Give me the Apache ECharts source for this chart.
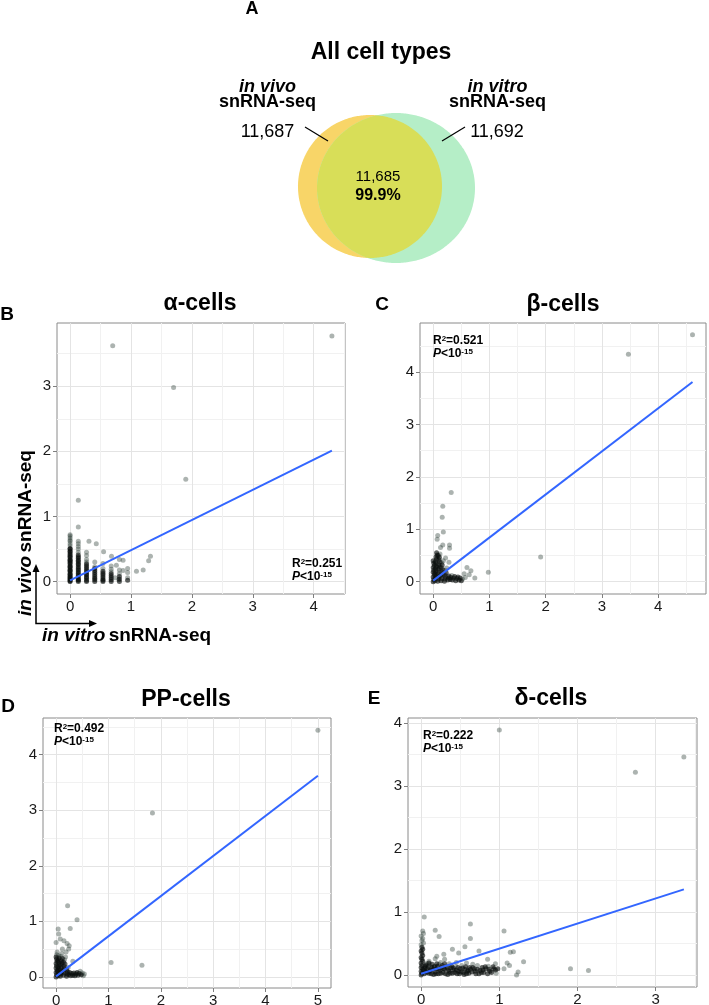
<!DOCTYPE html>
<html><head><meta charset="utf-8">
<script src="https://cdn.jsdelivr.net/npm/echarts@6/dist/echarts.min.js"></script>
<style>html,body{margin:0;padding:0;background:#fff}#c{width:709px;height:1005px}</style>
</head><body><div id="c"></div>
<script>
// ---------- DATA ----------
const vennTitle = 'All cell types';
const vennSetNames = ['in vivo', 'in vitro'];
const vennSetCounts = ['11,687', '11,692'];
const vennShared = '11,685';
const vennSharedPct = '99.9%';

const panelTitles = ['α-cells', 'β-cells', 'PP-cells', 'δ-cells'];
const panelLetters = ['B', 'C', 'D', 'E'];
const r2Values = ['0.251', '0.521', '0.492', '0.222'];
const pExponent = '-15';

// dense, overplotted cores (drawn darker)
const alphaCore = [
  [0,0],[0,0.01],[0,0.03],[0,0.04],[0,0.06],[0,0.07],[0,0.09],[0,0.11],[0,0.12],[0,0.15],[0,0.17],[0,0.18],
  [0,0.21],[0,0.23],[0,0.24],[0,0.27],[0,0.29],[0,0.31],[0,0.33],[0,0.34],[0,0.37],[0,0.39],[0,0.41],[0,0.43],
  [0,0.46],[0,0.47],[0,0.5],[0,0.51],
  [0.135,0],[0.135,0.02],[0.135,0.03],[0.135,0.05],[0.135,0.08],[0.135,0.1],[0.135,0.13],[0.135,0.15],[0.135,0.18],
  [0.135,0.2],[0.135,0.23],[0.135,0.26],[0.135,0.28],[0.135,0.31],[0.135,0.33],[0.135,0.36],[0.135,0.38],[0.135,0.41],
  [0.27,0],[0.27,0.02],[0.27,0.05],[0.27,0.07],[0.27,0.1],[0.27,0.12],[0.27,0.15],[0.27,0.18],[0.27,0.21],[0.27,0.24],[0.27,0.27],
  [0.405,0],[0.405,0.03],[0.405,0.05],[0.405,0.08],[0.405,0.11],[0.405,0.14],[0.405,0.17],[0.405,0.2],
  [0.54,0],[0.54,0.02],[0.54,0.04],[0.54,0.07],[0.54,0.1],[0.54,0.13],[0.54,0.16],
  [0.675,0],[0.675,0.03],[0.675,0.06],[0.675,0.09],[0.675,0.12],
  [0.81,0],[0.81,0.04],[0.81,0.08],[0.945,0.02]
];
const alphaPoints = [
  [0,0.55],[0,0.58],[0,0.62],[0,0.64],[0,0.67],[0,0.7],[0,0.72],
  [0.135,0.45],[0.135,0.5],[0.135,0.54],[0.135,0.58],[0.135,0.62],[0.135,0.84],[0.135,1.25],
  [0.27,0.3],[0.27,0.34],[0.27,0.4],[0.27,0.45],[0.405,0.23],[0.405,0.3],[0.54,0.2],[0.54,0.28],
  [0.675,0.15],[0.675,0.19],[0.675,0.24],[0.81,0.12],[0.81,0.18],[0.945,0.06],[0.945,0.14],[0.945,0.2],
  [0.31,0.62],[0.43,0.58],[0.55,0.46],[0.68,0.39],[0.81,0.34],[0.87,0.33],[0.76,0.25],[0.87,0.17],[0.74,0.06],[0.8,0.03],
  [1.09,0.16],[1.2,0.18],[1.29,0.32],[1.32,0.39],
  [0.7,3.62],[1.7,2.98],[1.9,1.57],[4.3,3.77]
];
const betaCore = [
  [0,0],[0.01,0.04],[0,0.09],[0.02,0.13],[0,0.18],[0.01,0.22],[0,0.27],[0.02,0.31],[0.01,0.35],[0,0.4],
  [0.03,0.02],[0.04,0.07],[0.05,0.12],[0.03,0.16],[0.05,0.21],[0.04,0.25],[0.06,0.29],[0.05,0.34],[0.04,0.38],
  [0.06,0.43],[0.05,0.47],[0.07,0.51],[0.06,0.55],
  [0.08,0.01],[0.09,0.05],[0.1,0.1],[0.08,0.15],[0.1,0.19],[0.09,0.24],[0.11,0.28],[0.1,0.33],[0.12,0.37],
  [0.1,0.42],[0.11,0.46],[0.09,0.5],
  [0.14,0.02],[0.15,0.06],[0.13,0.11],[0.16,0.14],[0.15,0.19],[0.17,0.23],[0.14,0.27],[0.16,0.32],
  [0.2,0.01],[0.21,0.05],[0.22,0.09],[0.2,0.13],[0.23,0.17],
  [0.26,0.03],[0.27,0.07],[0.28,0.11],[0.3,0.04],[0.31,0.08],[0.34,0.03],[0.36,0.07],[0.38,0.1],
  [0.4,0.02],[0.42,0.06],[0.44,0.09],[0.46,0.03],[0.48,0.07],[0.5,0.02]
];
const betaPoints = [
  [0.12,0.53],[0.15,0.36],[0.18,0.4],[0.21,0.22],[0.24,0.26],[0.33,0.12],[0.52,0.05],[0.55,0.15],[0.57,0.08],
  [0.6,0.27],[0.64,0.13],[0.67,0.21],[0.74,0.07],[0.98,0.18],
  [0.08,0.88],[0.07,0.81],[0.17,1.44],[0.16,1.23],[0.18,0.95],[0.32,1.7],[0.29,0.7],[0.29,0.64],[0.17,0.7],
  [0.13,0.65],[0.28,0.37],[0.22,0.45],[1.91,0.47],[3.47,4.34],[4.61,4.71]
];
const ppCore = [
  [0,0],[0.01,0.04],[0,0.08],[0.02,0.12],[0,0.16],[0.01,0.2],[0,0.24],[0.02,0.28],[0.01,0.32],[0,0.36],
  [0.04,0.02],[0.05,0.06],[0.03,0.1],[0.05,0.14],[0.04,0.18],[0.06,0.22],[0.05,0.26],[0.04,0.3],[0.06,0.34],
  [0.08,0.01],[0.09,0.05],[0.1,0.09],[0.08,0.13],[0.1,0.17],[0.09,0.21],[0.11,0.25],[0.1,0.29],[0.12,0.33],
  [0.14,0.03],[0.15,0.07],[0.13,0.11],[0.16,0.15],[0.15,0.19],[0.17,0.23],[0.14,0.27],
  [0.2,0.01],[0.21,0.05],[0.22,0.09],[0.2,0.13],[0.24,0.04],[0.26,0.08],[0.28,0.02],[0.3,0.06],
  [0.32,0.03],[0.34,0.07],[0.36,0.02],[0.38,0.05],[0.4,0.08],[0.42,0.03],[0.44,0.06],[0.48,0.04]
];
const ppPoints = [
  [0.01,0.4],[0.05,0.38],[0.09,0.37],[0.11,0.42],[0.16,0.31],[0.18,0.36],[0.23,0.17],[0.46,0.1],[0.5,0.07],
  [0.52,0.02],[0.54,0.05],
  [0.22,1.28],[0.4,1.03],[0.27,0.87],[0.04,0.86],[0.05,0.77],[0,0.62],[0.08,0.68],[0.15,0.65],[0.21,0.6],
  [0.25,0.56],[0.24,0.5],[0.19,0.45],[0.32,0.28],[0.02,0.45],[0.12,0.5],
  [1.05,0.26],[1.64,0.21],[1.84,2.95],[5.0,4.44]
];
const deltaCore = [
  [0,0],[0.01,0.03],[0,0.06],[0.02,0.09],[0,0.12],[0.01,0.15],[0,0.19],[0.02,0.22],[0.01,0.25],[0,0.28],
  [0.02,0.31],[0.01,0.35],[0,0.38],[0.02,0.41],[0.01,0.44],
  [0.04,0.02],[0.06,0.06],[0.08,0.1],[0.05,0.14],[0.1,0.03],[0.12,0.08],[0.14,0.12],
  [0.16,0.01],[0.18,0.05],[0.2,0.1],[0.22,0.02],[0.24,0.07],[0.26,0.12],[0.28,0.04],
  [0.3,0.09],[0.34,0.01],[0.36,0.06],[0.38,0.11],[0.4,0.03],[0.42,0.08],[0.46,0.02],
  [0.48,0.06],[0.5,0.1],[0.54,0.04],[0.56,0.09],[0.58,0.02],[0.6,0.07],[0.62,0.12],[0.65,0.05],
  [0.68,0.1],[0.7,0.02],[0.75,0.07],[0.78,0.12],[0.8,0.04],[0.83,0.1],[0.88,0.06],[0.93,0.1],
  [0.03,0.08],[0.05,0.11],[0.07,0.04],[0.09,0.13],[0.11,0.06],[0.13,0.02],[0.15,0.09],[0.17,0.13],[0.19,0.02],
  [0.21,0.14],[0.23,0.09],[0.25,0.03],[0.27,0.15],[0.29,0.1],[0.31,0.02],[0.33,0.12],[0.35,0.08],[0.37,0.03],
  [0.39,0.14],[0.41,0.11],[0.43,0.04],[0.45,0.08],[0.47,0.12],[0.49,0.02],[0.51,0.05],[0.53,0.11],[0.55,0.01],
  [0.57,0.13],[0.59,0.06],[0.61,0.03],[0.63,0.09],[0.66,0.12],[0.69,0.06],[0.72,0.09],[0.74,0.02],[0.77,0.04],
  [0.79,0.08],[0.82,0.13],[0.85,0.02],[0.87,0.09],[0.9,0.04],[0.92,0.13],[0.95,0.08],[0.98,0.1],
  [0.2,0.18],[0.1,0.19],[0.3,0.18],[0.06,0.16],[0.14,0.17]
];
const deltaPoints = [
  [0,0.48],[0.03,0.51],[0.01,0.55],[0.02,0.58],[0,0.62],[0.03,0.66],[0.02,0.7],[0.04,0.92],
  [0.07,0.18],[0.11,0.16],[0.17,0.14],[0.23,0.17],[0.32,0.14],[0.44,0.13],[0.52,0.15],[0.72,0.15],[0.86,0.14],[0.96,0.03],
  [0.1,0.22],[0.25,0.2],[0.36,0.18],[0.45,0.2],[0.58,0.19],[0.66,0.17],
  [0.18,0.26],[0.2,0.3],[0.29,0.33],[0.3,0.25],[0.4,0.41],[0.48,0.35],[0.56,0.45],[0.74,0.38],[0.63,0.81],
  [0.63,0.58],[1.06,0.7],[0.18,0.71],[0.23,0.61],[0.85,0.25],[0.95,0.18],[1.06,0.1],[1.18,0.37],[1.14,0.36],
  [1.31,0.21],[1.1,0.19],[1.13,0.15],[1.24,0.05],[1.22,0],[1.91,0.1],[2.14,0.07],
  [1.0,3.89],[2.74,3.22],[3.36,3.46]
];
const panelCores = [alphaCore, betaCore, ppCore, deltaCore];
const panelPoints = [alphaPoints, betaPoints, ppPoints, deltaPoints];

const fitLines = [
  [[0,0.02],[4.3,2.01]],
  [[0,0.02],[4.61,3.81]],
  [[0,0.01],[5.0,3.62]],
  [[0,0.02],[3.36,1.36]]
];

const xTicks = [[0,1,2,3,4],[0,1,2,3,4],[0,1,2,3,4,5],[0,1,2,3]];
const yTicks = [[0,1,2,3],[0,1,2,3,4],[0,1,2,3,4],[0,1,2,3,4]];
const xMinorTicks = [[0.5,1.5,2.5,3.5,4.5],[0.5,1.5,2.5,3.5,4.5],[0.5,1.5,2.5,3.5,4.5],[0.5,1.5,2.5,3.5]];
const yMinorTicks = [[0.5,1.5,2.5,3.5],[0.5,1.5,2.5,3.5,4.5],[0.5,1.5,2.5,3.5,4.5],[0.5,1.5,2.5,3.5]];
const xRanges = [[-0.215,4.515],[-0.235,4.85],[-0.25,5.25],[-0.168,3.528]];
const yRanges = [[-0.19,3.97],[-0.235,4.935],[-0.2,4.66],[-0.19,4.08]];

// ---------- LAYOUT ----------
const FONT = 'Liberation Sans, Arial, Helvetica, sans-serif';
const gridBoxes = [
  {left:57, top:323, width:288, height:271},
  {left:420, top:323, width:286, height:271},
  {left:43, top:718, width:288, height:270},
  {left:408, top:718, width:289, height:269}
];

const grids = [], xAxes = [], yAxes = [], series = [];
gridBoxes.forEach((g, i) => {
  grids.push(Object.assign({show:true, borderColor:'#8a8a8a', borderWidth:1, backgroundColor:'#fff', containLabel:false, outerBoundsMode:'none'}, g));
  const common = {type:'value', gridIndex:i};
  xAxes.push(Object.assign({}, common, {
    min:xRanges[i][0], max:xRanges[i][1], position:'bottom',
    axisLine:{show:false, onZero:false},
    axisTick:{show:true, length:4, lineStyle:{color:'#7f7f7f'}, customValues:xTicks[i]},
    axisLabel:{customValues:xTicks[i], color:'#1a1a1a', fontSize:15, margin:5, fontFamily:FONT},
    splitLine:{show:true, lineStyle:{color:'#e4e4e4', width:1}}
  }));
  xAxes.push(Object.assign({}, common, {
    min:xRanges[i][0], max:xRanges[i][1], position:'top',
    axisLine:{show:false, onZero:false},
    axisTick:{show:false, customValues:xMinorTicks[i]},
    axisLabel:{show:false},
    splitLine:{show:true, lineStyle:{color:'#f1f1f1', width:1}}
  }));
  yAxes.push(Object.assign({}, common, {
    min:yRanges[i][0], max:yRanges[i][1], position:'left',
    axisLine:{show:false, onZero:false},
    axisTick:{show:true, length:4, lineStyle:{color:'#7f7f7f'}, customValues:yTicks[i]},
    axisLabel:{customValues:yTicks[i], color:'#1a1a1a', fontSize:15, margin:6, fontFamily:FONT},
    splitLine:{show:true, lineStyle:{color:'#e4e4e4', width:1}}
  }));
  yAxes.push(Object.assign({}, common, {
    min:yRanges[i][0], max:yRanges[i][1], position:'right',
    axisLine:{show:false, onZero:false},
    axisTick:{show:false, customValues:yMinorTicks[i]},
    axisLabel:{show:false},
    splitLine:{show:true, lineStyle:{color:'#f1f1f1', width:1}}
  }));
  series.push({
    type:'scatter', xAxisIndex:2*i, yAxisIndex:2*i, data:panelPoints[i],
    symbolSize:5, itemStyle:{color:'rgba(25,45,35,0.45)'}, silent:true, z:3
  });
  series.push({
    type:'scatter', xAxisIndex:2*i, yAxisIndex:2*i, data:panelCores[i],
    symbolSize:5, itemStyle:{color:'rgba(10,14,12,0.8)'}, silent:true, z:3
  });
  series.push({
    type:'line', xAxisIndex:2*i, yAxisIndex:2*i, data:fitLines[i],
    symbol:'none', lineStyle:{color:'#3366ff', width:2}, silent:true, z:4
  });
});

// ---------- GRAPHICS ----------
const graphics = [];
function txt(x, y, text, opts) {
  graphics.push({type:'text', x, y, silent:true, z:10, rotation:(opts && opts.rotation) || 0,
    style:Object.assign({text, fill:'#000', font:'bold 18px ' + FONT,
      textAlign:'center', textVerticalAlign:'middle', align:'center', verticalAlign:'middle'}, (opts && opts.style) || {})});
}
// Venn
const L = {cx:370, cy:186.5, rx:72, ry:71.5};
const R = {cx:396, cy:188, rx:79, ry:75};
function ell(e, n) { const p = []; for (let k = 0; k < n; k++) { const a = 2 * Math.PI * k / n; p.push([e.cx + e.rx * Math.cos(a), e.cy + e.ry * Math.sin(a)]); } return p; }
function inside(p, e) { const dx = (p[0] - e.cx) / e.rx, dy = (p[1] - e.cy) / e.ry; return dx * dx + dy * dy <= 1; }
const pL = ell(L, 360), pR = ell(R, 360);
let lens = pL.filter(p => inside(p, R)).concat(pR.filter(p => inside(p, L)));
const cxm = lens.reduce((s, p) => s + p[0], 0) / lens.length, cym = lens.reduce((s, p) => s + p[1], 0) / lens.length;
lens.sort((a, b) => Math.atan2(a[1] - cym, a[0] - cxm) - Math.atan2(b[1] - cym, b[0] - cxm));
graphics.push({type:'polygon', shape:{points:pL}, style:{fill:'#f8d568'}, silent:true, z:1});
graphics.push({type:'polygon', shape:{points:pR}, style:{fill:'#b5eec7'}, silent:true, z:1});
graphics.push({type:'polygon', shape:{points:lens}, style:{fill:'#d8de58'}, silent:true, z:2});
graphics.push({type:'line', shape:{x1:305, y1:127, x2:328, y2:141}, style:{stroke:'#000', lineWidth:1.2}, silent:true, z:3});
graphics.push({type:'line', shape:{x1:465, y1:127, x2:442, y2:141}, style:{stroke:'#000', lineWidth:1.2}, silent:true, z:3});

txt(252, 9, 'A', {style:{font:'bold 18px ' + FONT}});
txt(381, 53, vennTitle, {style:{font:'bold 23px ' + FONT}});
txt(267.5, 87, vennSetNames[0], {style:{font:'italic bold 18px ' + FONT}});
txt(267.5, 102, 'snRNA-seq', {style:{font:'bold 18px ' + FONT}});
txt(267.5, 132, vennSetCounts[0], {style:{font:'18px ' + FONT}});
txt(497.5, 87, vennSetNames[1], {style:{font:'italic bold 18px ' + FONT}});
txt(497.5, 102, 'snRNA-seq', {style:{font:'bold 18px ' + FONT}});
txt(497, 132, vennSetCounts[1], {style:{font:'18px ' + FONT}});
txt(378, 177, vennShared, {style:{font:'15px ' + FONT}});
txt(378, 196, vennSharedPct, {style:{font:'bold 16px ' + FONT}});

// Panel titles and letters
const titlePos = [[200, 304], [563, 305], [186, 700], [551, 699]];
const letterPos = [[7, 315], [382, 305], [8, 707], [374, 699]];
panelTitles.forEach((t, i) => {
  txt(titlePos[i][0], titlePos[i][1], t, {style:{font:'bold 23px ' + FONT}});
  txt(letterPos[i][0], letterPos[i][1], panelLetters[i], {style:{font:'bold 19px ' + FONT}});
});

// R2 / P annotations
const annPos = [[292, 564], [433, 341], [54, 729], [423, 736]];
const rich = {
  b:{font:'bold 12px ' + FONT, fill:'#000'},
  i:{font:'italic bold 12px ' + FONT, fill:'#000'},
  s:{font:'bold 8px ' + FONT, fill:'#000', verticalAlign:'top', padding:[0,0,5,0]}
};
annPos.forEach((p, i) => {
  graphics.push({type:'text', x:p[0], y:p[1], silent:true, z:10,
    style:{text:'{b|R}{s|2}{b|=' + r2Values[i] + '}', rich, textAlign:'left', align:'left', textVerticalAlign:'middle', verticalAlign:'middle'}});
  graphics.push({type:'text', x:p[0], y:p[1] + 13, silent:true, z:10,
    style:{text:'{i|P}{b|<10}{s|' + pExponent + '}', rich, textAlign:'left', align:'left', textVerticalAlign:'middle', verticalAlign:'middle'}});
});

// Axis-direction legend in panel B
graphics.push({type:'polyline', shape:{points:[[36,568],[36,623.5],[91,623.5]]}, style:{stroke:'#000', lineWidth:1.5, fill:null}, silent:true, z:10});
graphics.push({type:'polygon', shape:{points:[[97,623.5],[89,620],[89,627]]}, style:{fill:'#000'}, silent:true, z:10});
graphics.push({type:'polygon', shape:{points:[[36,564],[32.5,572],[39.5,572]]}, style:{fill:'#000'}, silent:true, z:10});
graphics.push({type:'text', x:42, y:636, silent:true, z:10,
  style:{text:'{i|in vitro} {b|snRNA-seq}', textAlign:'left', align:'left', textVerticalAlign:'middle', verticalAlign:'middle',
    rich:{i:{font:'italic bold 19px ' + FONT, fill:'#000'}, b:{font:'bold 19px ' + FONT, fill:'#000'}}}});
graphics.push({type:'text', x:26, y:533, rotation:Math.PI / 2, silent:true, z:10,
  style:{text:'{i|in vivo} {b|snRNA-seq}', textAlign:'center', align:'center', textVerticalAlign:'middle', verticalAlign:'middle',
    rich:{i:{font:'italic bold 19px ' + FONT, fill:'#000'}, b:{font:'bold 19px ' + FONT, fill:'#000'}}}});

const chart = echarts.init(document.getElementById('c'), null, {renderer:'canvas'});
chart.setOption({
  animation:false,
  backgroundColor:'#fff',
  grid:grids, xAxis:xAxes, yAxis:yAxes, series, graphic:graphics
});
</script></body></html>
